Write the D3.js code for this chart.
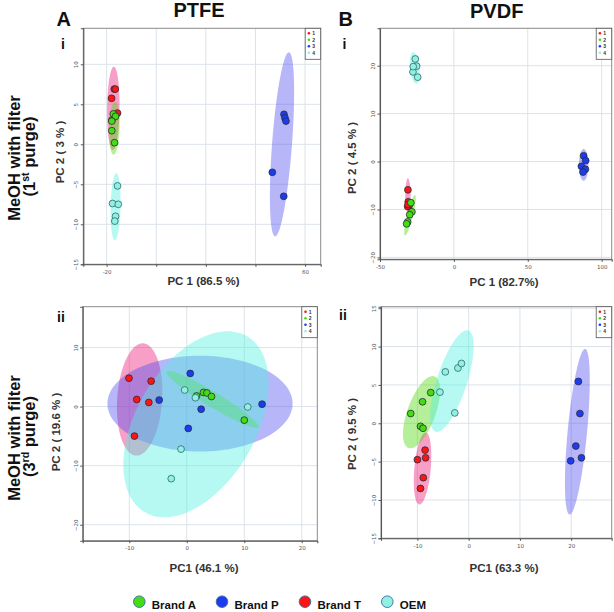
<!DOCTYPE html>
<html>
<head>
<meta charset="utf-8">
<script src="https://cdn.jsdelivr.net/npm/d3@7"></script>
<style>
body { margin: 0; background: #fff; }
svg { display: block; font-family: "Liberation Sans", Arial, sans-serif; }
</style>
</head>
<body>
<svg id="chart" width="614" height="612"></svg>
<script>
// groups 1..4 : 1 = Brand T, 2 = Brand A, 3 = Brand P, 4 = OEM
const groups = ["1", "2", "3", "4"];
const pointColors = ["#ff1414", "#44dd14", "#1c3cf0", "#90f0e2"];
const hullColors = ["#ec1a7a", "#52d80c", "#5252ee", "#50f0e1"];
const hullOrder = [0, 2, 1, 3];
const legendNames = ["Brand A", "Brand P", "Brand T", "OEM"];
const legendGroups = [1, 2, 0, 3];

// [x, y, group]
const ptfe1Points = [
    [-16.9, 6.9, 0], [-16.5, 6.9, 0], [-18.0, 5.75, 0], [-15.6, 3.9, 0], [-17.9, 3.0, 0],
    [-17.3, 3.8, 1], [-16.4, 3.5, 1], [-17.9, 2.9, 1], [-17.9, 1.7, 1], [-16.8, 0.2, 1],
    [51.5, 3.75, 2], [51.9, 3.3, 2], [52.3, 2.9, 2], [46.8, -3.5, 2], [51.4, -6.5, 2],
    [-15.6, -5.2, 3], [-17.6, -7.4, 3], [-15.3, -7.5, 3], [-16.4, -9.0, 3], [-16.7, -9.6, 3]
];
const pvdf1Points = [
    [-31.1, -5.9, 0], [-30.9, -8.4, 0], [-30.4, -9.3, 0], [-31.3, -9.4, 0], [-31.0, -9.0, 0],
    [-29.1, -8.6, 1], [-28.4, -10.5, 1], [-29.9, -11.1, 1], [-31.3, -12.6, 1], [-32.0, -13.0, 1],
    [87.8, 1.2, 2], [89.2, 0.2, 2], [86.3, -1.0, 2], [89.0, -1.6, 2], [87.4, -2.2, 2],
    [-26.1, 21.4, 3], [-25.2, 19.9, 3], [-27.7, 18.7, 3], [-27.5, 19.8, 3], [-24.5, 17.6, 3]
];
const ptfe3Points = [
    [-10.05, 4.8, 0], [-6.2, 4.3, 0], [-8.7, 1.2, 0], [-6.6, 0.7, 0], [-9.1, -5.0, 0],
    [1.7, 1.8, 1], [2.9, 2.4, 1], [3.5, 2.3, 1], [4.3, 1.7, 1], [10.0, -2.3, 1],
    [0.6, 5.6, 2], [-4.8, 1.1, 2], [2.5, -0.45, 2], [0.26, -3.7, 2], [13.1, 0.4, 2],
    [-0.37, 2.8, 3], [1.5, 1.5, 3], [10.6, -0.07, 3], [-1.0, -7.2, 3], [-2.7, -12.2, 3]
];
const pvdf3Points = [
    [-8.5, -3.5, 0], [-10.0, -4.75, 0], [-8.4, -4.5, 0], [-8.85, -7.1, 0], [-9.4, -8.5, 0],
    [-11.3, 1.27, 1], [-9.0, 2.8, 1], [-7.4, 4.0, 1], [-9.4, -0.4, 1], [-8.9, -0.65, 1],
    [21.4, 5.45, 2], [21.7, 1.27, 2], [20.9, -2.97, 2], [19.9, -4.9, 2], [22.0, -4.5, 2],
    [-5.6, 4.06, 3], [-4.55, 6.7, 3], [-2.1, 7.2, 3], [-1.4, 7.8, 3], [-2.7, 1.35, 3]
];

// confidence ellipses: [group, cx, cy, axis1 dx, axis1 dy, axis2 dx, axis2 dy] (data units)
const ptfe1Ellipses = [
    [0, -17.3, 4.5, 0.2, 5.2, 2.5, 0],
    [1, -16.9, 2.0, 0.3, 3.3, 2.1, 0],
    [2, 50.7, 0.0, 2.8, 11.5, 4.0, -0.1],
    [3, -16.4, -7.8, 0.3, 4.2, 2.0, 0]
];
const pvdf1Ellipses = [
    [0, -31.1, -7.2, 0, 3.7, 1.8, 0],
    [1, -29.7, -11.2, 3.4, 4.2, 2.0, -0.15],
    [2, 87.8, -0.7, 0, 3.3, 3.2, 0],
    [3, -26.4, 19.5, -1.0, 3.3, 3.3, 0]
];
const ptfe3Ellipses = [
    [0, -8.2, 1.2, 0.64, 9.5, 3.9, -0.25],
    [1, 4.5, 1.2, 7.97, -4.7, -0.68, -1.08],
    [2, 2.3, 0.5, 16.1, 0, 0, 8.1],
    [3, 1.6, -3.0, 8.87, 14.9, 9.0, -5.07]
];
const pvdf3Ellipses = [
    [0, -9.0, -5.9, 0.6, 4.7, 1.6, 0],
    [1, -9.2, 1.44, 2.54, 4.67, 2.57, -0.63],
    [2, 21.2, -1.1, 1.5, 10.8, 1.9, 0],
    [3, -3.26, 5.5, 3.2, 6.6, 2.79, -0.61]
];

const ptfe1XTicks = [-20, 0, 20, 40, 60];
const ptfe1XLabels = ["-20", "", "", "", "60"];
const ptfe1YTicks = [-15, -10, -5, 0, 5, 10];
const pvdf1XTicks = [-50, 0, 50, 100];
const pvdf1YTicks = [-20, -10, 0, 10, 20];
const ptfe3XTicks = [-10, 0, 10, 20];
const ptfe3YTicks = [-20, -10, 0, 10];
const pvdf3XTicks = [-10, 0, 10, 20];
const pvdf3YTicks = [-15, -10, -5, 0, 5, 10, 15];

const xTitles = ["PC 1 (86.5 %)", "PC 1 (82.7%)", "PC1 (46.1 %)", "PC1 (63.3 %)"];
const yTitles = ["PC 2 ( 3 % )", "PC 2 ( 4.5 % )", "PC 2 ( 19.6 % )", "PC 2 ( 9.5 % )"];

const svg = d3.select("#chart");

const panels = [
    {points: ptfe1Points, ellipses: ptfe1Ellipses, xTicks: ptfe1XTicks, xLabels: ptfe1XLabels, yTicks: ptfe1YTicks,
        left: 83.3, right: 320.7, top: 28.3, bottom: 264.3, xDomain: [-29.4, 66.3], yDomain: [-15, 14.5],
        xTitle: xTitles[0], yTitle: yTitles[0], xTitleX: 203.5, xTitleY: 285, yTitleX: 64, yTitleY: 152},
    {points: pvdf1Points, ellipses: pvdf1Ellipses, xTicks: pvdf1XTicks, yTicks: pvdf1YTicks,
        left: 380, right: 611.7, top: 28.3, bottom: 259.3, xDomain: [-50, 106.8], yDomain: [-20.4, 27.8],
        xTitle: xTitles[1], yTitle: yTitles[1], xTitleX: 504, xTitleY: 286, yTitleX: 356, yTitleY: 158},
    {points: ptfe3Points, ellipses: ptfe3Ellipses, xTicks: ptfe3XTicks, yTicks: ptfe3YTicks,
        left: 82.7, right: 317.3, top: 306.7, bottom: 540.7, xDomain: [-18.1, 22.7], yDomain: [-22.7, 16.9],
        xTitle: xTitles[2], yTitle: yTitles[2], xTitleX: 204, xTitleY: 572, yTitleX: 60, yTitleY: 432},
    {points: pvdf3Points, ellipses: pvdf3Ellipses, xTicks: pvdf3XTicks, yTicks: pvdf3YTicks,
        left: 381, right: 611.7, top: 306.7, bottom: 538.3, xDomain: [-17.1, 27.9], yDomain: [-15, 15.2],
        xTitle: xTitles[3], yTitle: yTitles[3], xTitleX: 504, xTitleY: 572, yTitleX: 356, yTitleY: 434}
];

panels.forEach((p, idx) => {
    const x = d3.scaleLinear().domain(p.xDomain).range([p.left, p.right]);
    const y = d3.scaleLinear().domain(p.yDomain).range([p.bottom, p.top]);
    const g = svg.append("g");

    g.append("clipPath").attr("id", "clip" + idx)
        .append("rect")
        .attr("x", p.left).attr("y", p.top)
        .attr("width", p.right - p.left).attr("height", p.bottom - p.top);

    // grid
    g.selectAll(".gx").data(p.xTicks).join("line")
        .attr("x1", d => x(d)).attr("x2", d => x(d))
        .attr("y1", p.top).attr("y2", p.bottom)
        .attr("stroke", "#dbe3ea").attr("stroke-width", 1);
    g.selectAll(".gy").data(p.yTicks).join("line")
        .attr("x1", p.left).attr("x2", p.right)
        .attr("y1", d => y(d)).attr("y2", d => y(d))
        .attr("stroke", "#dbe3ea").attr("stroke-width", 1);

    // ellipses
    const line = d3.line().curve(d3.curveLinearClosed);
    const steps = d3.range(0, 2 * Math.PI, Math.PI / 60);
    const ells = hullOrder.map(k => p.ellipses.find(e => e[0] === k));
    g.append("g").attr("clip-path", `url(#clip${idx})`)
        .selectAll("path").data(ells).join("path")
        .attr("d", e => line(steps.map(t => [
            x(e[1] + e[3] * Math.cos(t) + e[5] * Math.sin(t)),
            y(e[2] + e[4] * Math.cos(t) + e[6] * Math.sin(t))
        ])))
        .attr("fill", e => hullColors[e[0]])
        .attr("fill-opacity", 0.42)
        .attr("stroke", "none");

    // points
    g.selectAll(".pt").data(p.points).join("circle")
        .attr("cx", d => x(d[0])).attr("cy", d => y(d[1]))
        .attr("r", 3.4)
        .attr("fill", d => pointColors[d[2]])
        .attr("stroke", d => d[2] === 3 ? "#2d6a6a" : "#2a2a3a")
        .attr("stroke-width", 0.8);

    // frame
    g.append("rect")
        .attr("x", p.left).attr("y", p.top)
        .attr("width", p.right - p.left).attr("height", p.bottom - p.top)
        .attr("fill", "none").attr("stroke", "#8a8a8a").attr("stroke-width", 1);

    // axes
    const xAxis = d3.axisBottom(x).tickValues(p.xTicks).tickSize(2.5).tickPadding(3)
        .tickFormat((d, i) => p.xLabels ? p.xLabels[i] : d);
    const gx = g.append("g").attr("transform", `translate(0,${p.bottom})`).call(xAxis);
    const yAxis = d3.axisLeft(y).tickValues(p.yTicks).tickSize(2.5).tickPadding(3);
    const gy = g.append("g").attr("transform", `translate(${p.left},0)`).call(yAxis);
    [gx, gy].forEach(a => {
        a.select(".domain").attr("stroke", "#555").attr("stroke-width", 1.1);
        a.selectAll(".tick line").attr("stroke", "#555");
        a.selectAll(".tick text").attr("fill", "#555").attr("font-size", 5.5)
            .attr("font-family", "'DejaVu Sans', sans-serif");
    });
    gy.selectAll(".tick text")
        .attr("text-anchor", "middle").attr("dy", null)
        .attr("transform", "rotate(-90)")
        .attr("x", 0).attr("y", -5);

    // inner legend
    const lx = p.right - 15.5, ly = p.top;
    const lg = g.append("g");
    lg.append("rect").attr("x", lx).attr("y", ly).attr("width", 15.5).attr("height", 31)
        .attr("fill", "#fff").attr("stroke", "#555").attr("stroke-width", 0.8);
    lg.selectAll("circle").data(groups).join("circle")
        .attr("cx", lx + 3.7).attr("cy", (d, i) => ly + 5 + i * 6.5).attr("r", 1.3)
        .attr("fill", (d, i) => pointColors[i]);
    lg.selectAll("text").data(groups).join("text")
        .attr("x", lx + 7).attr("y", (d, i) => ly + 6.8 + i * 6.5)
        .attr("font-size", 5).attr("font-weight", "bold").attr("fill", "#333")
        .text(d => d);

    // axis titles
    g.append("text").attr("x", p.xTitleX).attr("y", p.xTitleY)
        .attr("text-anchor", "middle").attr("font-size", 11.5).attr("font-weight", "bold")
        .attr("fill", "#333").text(p.xTitle);
    g.append("text").attr("transform", `translate(${p.yTitleX},${p.yTitleY}) rotate(-90)`)
        .attr("text-anchor", "middle").attr("font-size", 11.5).attr("font-weight", "bold")
        .attr("fill", "#333").text(p.yTitle);
});

// column titles and panel letters
const bold = (sel, size) => sel.attr("font-weight", "bold").attr("font-size", size).attr("fill", "#111");
bold(svg.append("text").attr("x", 56.5).attr("y", 25.5).text("A"), 20);
bold(svg.append("text").attr("x", 199).attr("y", 16.5).attr("text-anchor", "middle").text("PTFE"), 20);
bold(svg.append("text").attr("x", 338.5).attr("y", 25.5).text("B"), 20);
bold(svg.append("text").attr("x", 496.7).attr("y", 17.5).attr("text-anchor", "middle").text("PVDF"), 20);
bold(svg.append("text").attr("x", 61).attr("y", 49).text("i"), 14);
bold(svg.append("text").attr("x", 342.5).attr("y", 49).text("i"), 14);
bold(svg.append("text").attr("x", 57).attr("y", 321.5).text("ii"), 14);
bold(svg.append("text").attr("x", 339).attr("y", 319.5).text("ii"), 14);

// row labels
[[158, "1", "st"], [438, "3", "rd"]].forEach(([cy, n, sup]) => {
    bold(svg.append("text").attr("transform", `translate(19.5,${cy}) rotate(-90)`)
        .attr("text-anchor", "middle").text("MeOH with filter"), 16.5);
    const t = bold(svg.append("text").attr("transform", `translate(35,${cy - 1.5}) rotate(-90)`)
        .attr("text-anchor", "middle"), 16.5);
    t.append("tspan").text("(" + n);
    t.append("tspan").attr("font-size", 10.5).attr("dy", -6.5).text(sup);
    t.append("tspan").attr("dy", 6.5).text(" purge)");
});

// bottom legend
const legendX = [139.3, 222, 305, 387.3];
const bl = svg.append("g");
bl.selectAll("circle").data(legendGroups).join("circle")
    .attr("cx", (d, i) => legendX[i]).attr("cy", 601.7).attr("r", 5.8)
    .attr("fill", d => pointColors[d]).attr("stroke", "#3a6a9a").attr("stroke-width", 0.9);
bl.selectAll("text").data(legendNames).join("text")
    .attr("x", (d, i) => legendX[i] + 12.5).attr("y", 609)
    .attr("font-size", 11.5).attr("font-weight", "bold").attr("fill", "#111")
    .text(d => d);
</script>
</body>
</html>
